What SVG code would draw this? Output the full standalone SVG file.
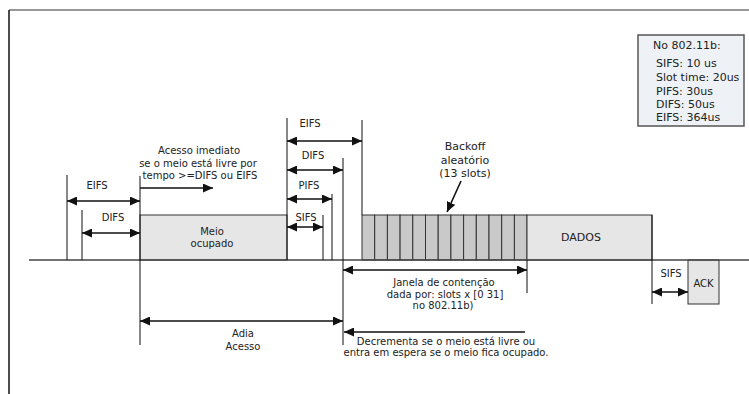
<svg xmlns="http://www.w3.org/2000/svg" width="749" height="394" viewBox="0 0 749 394">
<style>
text{font-family:"DejaVu Sans","Liberation Sans",sans-serif;font-size:10px;fill:#222;text-anchor:middle}
.lg{font-size:11px;text-anchor:start}
.big{font-size:11px}
.box{fill:#e6e6e6;stroke:#333;stroke-width:1}
.slot{fill:#c9c9c9;stroke:#333;stroke-width:1}
.v{stroke:#111;stroke-width:1;fill:none}
.arr{stroke:#111;stroke-width:1.6;fill:none;marker-end:url(#ah)}
.dbl{marker-start:url(#ah)}
</style>
<defs>
<marker id="ah" markerUnits="userSpaceOnUse" markerWidth="10" markerHeight="9" refX="10" refY="4.5" orient="auto-start-reverse">
<path d="M0,0 L10,4.5 L0,9 Z" fill="#111"/>
</marker>
</defs>
<rect width="749" height="394" fill="#fff"/>
<g id="frame">
<line x1="9" y1="10" x2="749" y2="10" stroke="#777" stroke-width="1.5"/>
<line x1="9" y1="10" x2="9" y2="394" stroke="#111" stroke-width="1.5"/>
</g>
<g id="legend">
<rect x="638" y="35" width="106" height="91" fill="#eef2f7" stroke="#555" stroke-width="1.5"/>
<text class="lg" x="653" y="49">No 802.11b:</text>
<text class="lg" x="656" y="66.5">SIFS: 10 us</text>
<text class="lg" x="656" y="80.5">Slot time: 20us</text>
<text class="lg" x="656" y="94.5">PIFS: 30us</text>
<text class="lg" x="656" y="108">DIFS: 50us</text>
<text class="lg" x="656" y="121">EIFS: 364us</text>
</g>
<g id="meio">
<rect class="box" x="140" y="215" width="147" height="45"/>
<text x="212" y="235">Meio</text>
<text x="212" y="247">ocupado</text>
</g>
<g id="backoff">
<rect class="slot" x="362" y="215" width="12.7" height="45"/>
<rect class="slot" x="374.7" y="215" width="12.7" height="45"/>
<rect class="slot" x="387.4" y="215" width="12.7" height="45"/>
<rect class="slot" x="400.1" y="215" width="12.7" height="45"/>
<rect class="slot" x="412.8" y="215" width="12.7" height="45"/>
<rect class="slot" x="425.5" y="215" width="12.7" height="45"/>
<rect class="slot" x="438.2" y="215" width="12.7" height="45"/>
<rect class="slot" x="450.9" y="215" width="12.7" height="45"/>
<rect class="slot" x="463.6" y="215" width="12.7" height="45"/>
<rect class="slot" x="476.3" y="215" width="12.7" height="45"/>
<rect class="slot" x="489" y="215" width="12.7" height="45"/>
<rect class="slot" x="501.7" y="215" width="12.7" height="45"/>
<rect class="slot" x="514.4" y="215" width="12.6" height="45"/>
<text class="big" x="465" y="150">Backoff</text>
<text class="big" x="465" y="163.5">aleatório</text>
<text class="big" x="465" y="177">(13 slots)</text>
</g>
<g id="dados">
<rect class="box" x="527" y="215" width="125" height="45"/>
<text class="big" x="581" y="240.5">DADOS</text>
</g>
<g id="ack">
<rect class="box" x="688" y="260" width="31" height="44"/>
<text x="703.5" y="287">ACK</text>
</g>
<g id="timeline">
<line x1="29" y1="260" x2="749" y2="260" stroke="#444" stroke-width="1.5"/>
</g>
<g id="connectors">
<line class="v" x1="67" y1="175" x2="67" y2="260"/>
<line class="v" x1="82" y1="210" x2="82" y2="260"/>
<line class="v" x1="140" y1="176" x2="140" y2="345"/>
<line class="v" x1="287" y1="118" x2="287" y2="260"/>
<line class="v" x1="323" y1="215" x2="323" y2="260"/>
<line class="v" x1="332" y1="194" x2="332" y2="260"/>
<line class="v" x1="343" y1="158" x2="343" y2="345"/>
<line class="v" x1="362" y1="120" x2="362" y2="215"/>
<line class="v" x1="527" y1="260" x2="527" y2="293"/>
<line class="v" x1="652" y1="215" x2="652" y2="304"/>
<line class="arr dbl" x1="67" y1="201" x2="140" y2="201"/>
<line class="arr dbl" x1="82" y1="233" x2="140" y2="233"/>
<line class="arr" x1="140" y1="188" x2="213" y2="188"/>
<line class="arr dbl" x1="287" y1="141" x2="362" y2="141"/>
<line class="arr dbl" x1="287" y1="170" x2="343" y2="170"/>
<line class="arr dbl" x1="287" y1="199" x2="332" y2="199"/>
<line class="arr dbl" x1="287" y1="227" x2="323" y2="227"/>
<line class="arr dbl" x1="343" y1="270" x2="527" y2="270"/>
<line class="arr dbl" x1="140" y1="321" x2="343" y2="321"/>
<line class="arr" x1="525" y1="332" x2="344" y2="332"/>
<line class="arr dbl" x1="652" y1="292" x2="688" y2="292"/>
<line class="arr" x1="461" y1="181" x2="447" y2="212" stroke-width="1"/>
</g>
<g id="labels">
<text x="199" y="154">Acesso imediato</text>
<text x="198" y="166.5">se o meio está livre por</text>
<text x="200" y="179">tempo &gt;=DIFS ou EIFS</text>
<text x="97" y="189">EIFS</text>
<text x="113" y="220.5">DIFS</text>
<text x="310" y="127">EIFS</text>
<text x="313" y="159">DIFS</text>
<text x="309" y="189">PIFS</text>
<text x="306" y="220.5">SIFS</text>
<text x="671" y="277">SIFS</text>
<text x="444" y="285.5">Janela de contenção</text>
<text x="445" y="297.5">dada por: slots x [0 31]</text>
<text x="443" y="309">no 802.11b)</text>
<text x="243" y="337">Adia</text>
<text x="243" y="350">Acesso</text>
<text x="446" y="344.5">Decrementa se o meio está livre ou</text>
<text x="446" y="356">entra em espera se o meio fica ocupado.</text>
</g>
</svg>
